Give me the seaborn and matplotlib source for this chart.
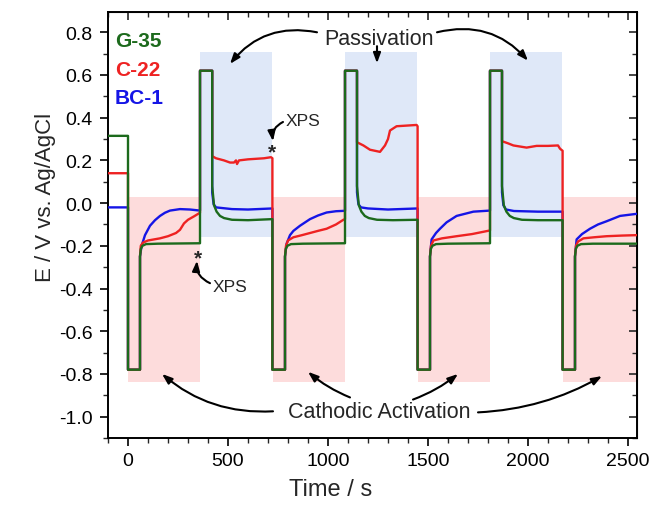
import numpy as np
import pandas as pd
import matplotlib
matplotlib.use("Agg")
import matplotlib.pyplot as plt
import seaborn as sns

# ---------------- data ----------------
series_names = ["BC-1", "C-22", "G-35"]
series_colors = ["#1515e6", "#ee2222", "#1c6a1c"]

green_t = [-100, 0, 0, 60, 60, 64, 72, 90, 150, 360,
           360, 421, 421, 430, 443, 460, 480, 520, 600, 722,
           722, 785, 785, 789, 797, 815, 875, 1085,
           1085, 1145, 1145, 1154, 1167, 1184, 1204, 1245, 1325, 1448,
           1448, 1510, 1510, 1514, 1522, 1540, 1600, 1810,
           1810, 1870, 1870, 1879, 1892, 1909, 1929, 1970, 2050, 2173,
           2173, 2235, 2235, 2239, 2247, 2265, 2325, 2545]
green_E = [0.315, 0.315, -0.78, -0.78, -0.25, -0.215, -0.2, -0.192, -0.19, -0.188,
           0.62, 0.62, 0.08, -0.01, -0.04, -0.06, -0.07, -0.078, -0.08, -0.075,
           -0.78, -0.78, -0.25, -0.215, -0.2, -0.192, -0.19, -0.188,
           0.62, 0.62, 0.08, -0.01, -0.04, -0.06, -0.07, -0.078, -0.08, -0.078,
           -0.78, -0.78, -0.25, -0.215, -0.2, -0.192, -0.19, -0.188,
           0.62, 0.62, 0.08, -0.01, -0.04, -0.06, -0.07, -0.078, -0.08, -0.08,
           -0.78, -0.78, -0.25, -0.215, -0.2, -0.192, -0.19, -0.19]

red_t = [-100, 0, 0, 60, 60, 64, 75, 100, 130, 160, 200, 240, 260, 280, 300, 330, 360,
         360, 421, 421, 440, 480, 510, 530, 540, 545, 555, 600, 680, 715, 722,
         722, 785, 785, 790, 800, 827, 870, 910, 950, 993, 1040, 1077, 1085,
         1085, 1145, 1145, 1177, 1210, 1260, 1285, 1300, 1310, 1343, 1443, 1448,
         1448, 1510, 1510, 1515, 1527, 1570, 1643, 1720, 1810,
         1810, 1870, 1870, 1900, 1927, 1993, 2043, 2100, 2150, 2160, 2173,
         2173, 2235, 2235, 2240, 2250, 2277, 2330, 2393, 2470, 2545]
red_E = [0.14, 0.14, -0.78, -0.78, -0.25, -0.2, -0.185, -0.175, -0.17, -0.165, -0.155, -0.14, -0.125, -0.095, -0.078, -0.062, -0.045,
         0.62, 0.62, 0.22, 0.21, 0.2, 0.19, 0.19, 0.2, 0.183, 0.2, 0.205, 0.21, 0.215, 0.21,
         -0.78, -0.78, -0.25, -0.2, -0.175, -0.16, -0.15, -0.14, -0.13, -0.12, -0.1, -0.078, -0.075,
         0.62, 0.62, 0.285, 0.27, 0.25, 0.24, 0.27, 0.30, 0.34, 0.36, 0.366, 0.36,
         -0.78, -0.78, -0.25, -0.2, -0.175, -0.165, -0.155, -0.145, -0.128,
         0.62, 0.62, 0.29, 0.28, 0.27, 0.26, 0.268, 0.268, 0.27, 0.255, 0.245,
         -0.78, -0.78, -0.25, -0.2, -0.18, -0.165, -0.16, -0.155, -0.152, -0.15]

blue_t = [-100, 0, 0, 60, 60, 68, 85, 110, 135, 160, 185, 210, 260, 310, 360,
          360, 421, 421, 428, 440, 520, 600, 722,
          722, 785, 785, 793, 810, 827, 860, 910, 950, 993, 1040, 1085,
          1085, 1145, 1145, 1152, 1165, 1200, 1300, 1448,
          1448, 1510, 1510, 1518, 1540, 1560, 1593, 1643, 1727, 1810,
          1810, 1870, 1870, 1877, 1890, 1930, 2050, 2173,
          2173, 2235, 2235, 2243, 2270, 2310, 2350, 2393, 2460, 2545]
blue_E = [-0.02, -0.02, -0.78, -0.78, -0.25, -0.2, -0.15, -0.106, -0.08, -0.06, -0.045, -0.035, -0.028, -0.03, -0.035,
          0.62, 0.62, 0.05, -0.005, -0.02, -0.028, -0.03, -0.025,
          -0.78, -0.78, -0.25, -0.19, -0.15, -0.13, -0.106, -0.075, -0.058, -0.044, -0.038, -0.036,
          0.62, 0.62, 0.05, -0.005, -0.02, -0.025, -0.03, -0.025,
          -0.78, -0.78, -0.25, -0.17, -0.14, -0.12, -0.09, -0.06, -0.04, -0.035,
          0.62, 0.62, 0.05, -0.01, -0.03, -0.037, -0.04, -0.04,
          -0.78, -0.78, -0.25, -0.17, -0.145, -0.12, -0.1, -0.085, -0.06, -0.05]

cathodic_start = [0, 725, 1450, 2175]
cathodic_end = [360, 1085, 1810, 2540]
cathodic_ylim = [-0.84, 0.03]
passive_start = [360, 1085, 1810]
passive_end = [720, 1445, 2170]
passive_ylim = [-0.16, 0.71]

x_ticks = [0, 500, 1000, 1500, 2000, 2500]
y_ticks = [-1.0, -0.8, -0.6, -0.4, -0.2, 0.0, 0.2, 0.4, 0.6, 0.8]

assert len(green_t) == len(green_E)
assert len(red_t) == len(red_E)
assert len(blue_t) == len(blue_E)

frames = []
for name, t, e in [("BC-1", blue_t, blue_E), ("C-22", red_t, red_E), ("G-35", green_t, green_E)]:
    frames.append(pd.DataFrame({"t": t, "E": e, "alloy": name}))
df = pd.concat(frames, ignore_index=True)

# ---------------- style ----------------
sns.set_style("ticks")
plt.rcParams["font.family"] = ["Liberation Sans", "DejaVu Sans"]

fig = plt.figure(figsize=(6.54, 5.10), dpi=100)
ax = fig.add_axes([108 / 654, 71 / 510, 529 / 654, 426 / 510])

# shaded regions
for s, e in zip(cathodic_start, cathodic_end):
    ax.fill_between([s, e], cathodic_ylim[0], cathodic_ylim[1], color="#fddcdc", lw=0, zorder=0)
for s, e in zip(passive_start, passive_end):
    ax.fill_between([s, e], passive_ylim[0], passive_ylim[1], color="#dfe8f8", lw=0, zorder=0)

sns.lineplot(data=df, x="t", y="E", hue="alloy", hue_order=series_names,
             palette=dict(zip(series_names, series_colors)), estimator=None,
             sort=False, units="alloy", legend=False, linewidth=1.7, ax=ax, zorder=3)

ax.set_xlim(-100, 2545)
ax.set_ylim(-1.1, 0.895)
ax.set_xticks(x_ticks)
ax.set_yticks(y_ticks)
ax.set_xticklabels([str(v) for v in x_ticks])
ax.set_yticklabels([f"{v:.1f}" for v in y_ticks])
ax.xaxis.set_minor_locator(matplotlib.ticker.MultipleLocator(100))
ax.yaxis.set_minor_locator(matplotlib.ticker.MultipleLocator(0.1))
ax.tick_params(which="major", direction="out", length=6, width=1.2, labelsize=14, pad=4, colors="black")
ax.tick_params(axis="y", which="major", pad=5)
ax.tick_params(which="minor", direction="out", length=3.5, width=1.0)
ax.set_xlabel("Time / s", fontsize=17)
ax.set_ylabel("E / V vs. Ag/AgCl", fontsize=16)
ax.xaxis.set_label_coords(0.42, -0.095)
ax.yaxis.set_label_coords(-0.098, 0.568)
for sp in ax.spines.values():
    sp.set_linewidth(1.4)
    sp.set_color("black")

# mirrored inward ticks on top/right
secx = ax.secondary_xaxis("top")
secx.set_xticks(x_ticks)
secx.xaxis.set_minor_locator(matplotlib.ticker.MultipleLocator(100))
secx.tick_params(which="major", direction="in", length=6, width=1.2, labeltop=False)
secx.tick_params(which="minor", direction="in", length=3.5, width=1.0)
secx.set_xticklabels([])
secy = ax.secondary_yaxis("right")
secy.set_yticks(y_ticks)
secy.yaxis.set_minor_locator(matplotlib.ticker.MultipleLocator(0.1))
secy.tick_params(which="major", direction="in", length=6, width=1.2, labelright=False)
secy.tick_params(which="minor", direction="in", length=3.5, width=1.0)
secy.set_yticklabels([])

# legend as colored text
for name, col, yy in zip(["G-35", "C-22", "BC-1"], [series_colors[2], series_colors[1], series_colors[0]],
                         [0.932, 0.866, 0.80]):
    ax.text(0.013, yy, name, color=col, fontsize=15, fontweight="bold",
            transform=ax.transAxes, ha="left", va="center", zorder=5)

# annotations
arrow_kw = dict(arrowstyle="-|>,head_length=0.6,head_width=0.22", color="black", lw=1.5,
                shrinkA=0, shrinkB=0)
ax.text(1255, 0.77, "Passivation", fontsize=15.5, ha="center", va="center", zorder=5)
ax.annotate("", xy=(510, 0.652), xytext=(945, 0.80),
            arrowprops=dict(**arrow_kw, connectionstyle="arc3,rad=0.3"))
ax.annotate("", xy=(1245, 0.655), xytext=(1245, 0.735),
            arrowprops=dict(**arrow_kw, connectionstyle="arc3,rad=0"))
ax.annotate("", xy=(2000, 0.667), xytext=(1545, 0.80),
            arrowprops=dict(**arrow_kw, connectionstyle="arc3,rad=-0.3"))

ax.text(1255, -0.975, "Cathodic Activation", fontsize=15.5, ha="center", va="center", zorder=5)
ax.annotate("", xy=(170, -0.80), xytext=(725, -0.975),
            arrowprops=dict(**arrow_kw, connectionstyle="arc3,rad=-0.2"))
ax.annotate("", xy=(900, -0.79), xytext=(1110, -0.91),
            arrowprops=dict(**arrow_kw, connectionstyle="arc3,rad=-0.08"))
ax.annotate("", xy=(1650, -0.80), xytext=(1425, -0.92),
            arrowprops=dict(**arrow_kw, connectionstyle="arc3,rad=0.08"))
ax.annotate("", xy=(2370, -0.81), xytext=(1750, -0.98),
            arrowprops=dict(**arrow_kw, connectionstyle="arc3,rad=0.12"))

# XPS marks
ax.text(720, 0.24, "*", fontsize=15, fontweight="bold", ha="center", va="center", zorder=5)
ax.text(790, 0.385, "XPS", fontsize=12.5, ha="left", va="center", zorder=5)
ax.annotate("", xy=(725, 0.29), xytext=(775, 0.38),
            arrowprops=dict(**arrow_kw, connectionstyle="arc3,rad=0.35"))
ax.text(350, -0.255, "*", fontsize=15, fontweight="bold", ha="center", va="center", zorder=5)
ax.text(425, -0.39, "XPS", fontsize=12.5, ha="left", va="center", zorder=5)
ax.annotate("", xy=(345, -0.27), xytext=(410, -0.375),
            arrowprops=dict(**arrow_kw, connectionstyle="arc3,rad=-0.35"))

fig.savefig("out.png", dpi=100)
